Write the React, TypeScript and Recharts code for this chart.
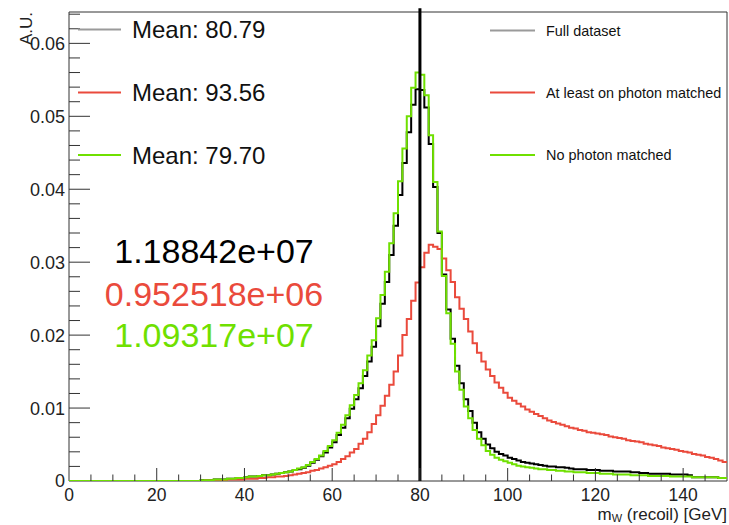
import React from "react";
import { ComposedChart, Line, XAxis, YAxis, ReferenceLine, ReferenceArea } from "recharts";

// ---- data (1 GeV bins, 0..150 GeV, unit-normalised) ----
const BIN_WIDTH = 1;
const X_MIN = 0;
const X_MAX = 150;
const Y_MAX = 0.0643;
const MARKER_X = 80;

const fullDataset: number[] = [
  0, 0, 0, 0, 0, 0, 0, 0, 0, 0, 0, 0, 0, 0, 0, 0, 0, 0, 0, 0, 0, 0, 0, 0, 0, 0, 0, 0, 0, 0,
  0.0001, 0.0001, 0.0001, 0.0002, 0.0002, 0.0002, 0.0003, 0.0003, 0.0004, 0.0004,
  0.0005, 0.0006, 0.0006, 0.0007, 0.0008, 0.0008, 0.0009, 0.001, 0.0011, 0.0012,
  0.0013, 0.0015, 0.0016, 0.0018, 0.0021, 0.0025, 0.0029, 0.0034, 0.0039, 0.0046,
  0.0053, 0.0063, 0.0073, 0.0086, 0.0099, 0.0112, 0.0127, 0.0144, 0.0164, 0.0184,
  0.0212, 0.0243, 0.0273, 0.031, 0.035, 0.0392, 0.0436, 0.0478, 0.0516, 0.0537,
  0.0536, 0.0512, 0.0462, 0.0403, 0.034, 0.0283, 0.0235, 0.0195, 0.0158, 0.0134,
  0.0112, 0.0096, 0.008, 0.0067, 0.0058, 0.005, 0.0045, 0.004, 0.0037, 0.0035,
  0.0032, 0.003, 0.0028, 0.0026, 0.0025, 0.0024, 0.0023, 0.0022, 0.0021, 0.002,
  0.002, 0.0019, 0.0019, 0.0018, 0.0017, 0.0016, 0.0016, 0.0016, 0.0015, 0.0015,
  0.0015, 0.0014, 0.0014, 0.0014, 0.0013, 0.0013, 0.0013, 0.0013, 0.0012, 0.0012,
  0.0011, 0.0011, 0.001, 0.001, 0.001, 0.001, 0.001, 0.0009, 0.0009, 0.0009,
  0.0009, 0.0008, 0.0005, 0.0005, 0.0005, 0.0005, 0.0005, 0.0005, 0.0004, 0.0004,
];

const photonMatched: number[] = [
  0, 0, 0, 0, 0, 0, 0, 0, 0, 0, 0, 0, 0, 0, 0, 0, 0, 0, 0, 0, 0, 0, 0, 0, 0, 0, 0, 0, 0, 0,
  0, 0.0001, 0.0001, 0.0001, 0.0001, 0.0001, 0.0002, 0.0002, 0.0002, 0.0002,
  0.0003, 0.0003, 0.0003, 0.0004, 0.0004, 0.0005, 0.0005, 0.0006, 0.0006, 0.0007,
  0.0008, 0.0009, 0.001, 0.0011, 0.0012, 0.0014, 0.0015, 0.0017, 0.0019, 0.0021,
  0.0023, 0.0026, 0.003, 0.0034, 0.0039, 0.0044, 0.0051, 0.0058, 0.0067, 0.0078,
  0.009, 0.0103, 0.0117, 0.0132, 0.015, 0.0172, 0.02, 0.0222, 0.0247, 0.0272,
  0.0293, 0.0313, 0.0324, 0.0321, 0.0318, 0.0305, 0.0289, 0.0273, 0.0252, 0.0236,
  0.0222, 0.0205, 0.0189, 0.0176, 0.0164, 0.0153, 0.0144, 0.0135, 0.0128, 0.0121,
  0.0114, 0.011, 0.0106, 0.0102, 0.0098, 0.0095, 0.0092, 0.0089, 0.0086, 0.0083,
  0.0081, 0.0079, 0.0077, 0.0075, 0.0073, 0.0072, 0.007, 0.0069, 0.0067, 0.0066,
  0.0065, 0.0064, 0.0063, 0.0061, 0.006, 0.0059, 0.0058, 0.0056, 0.0055, 0.0054,
  0.0053, 0.0051, 0.005, 0.0049, 0.0048, 0.0046, 0.0045, 0.0044, 0.0043, 0.0041,
  0.004, 0.0039, 0.0037, 0.0036, 0.0035, 0.0033, 0.0032, 0.003, 0.0028, 0.0026,
];

const noPhoton: number[] = [
  0, 0, 0, 0, 0, 0, 0, 0, 0, 0, 0, 0, 0, 0, 0, 0, 0, 0, 0, 0, 0, 0, 0, 0, 0, 0, 0, 0, 0, 0,
  0.0001, 0.0001, 0.0001, 0.0002, 0.0002, 0.0002, 0.0003, 0.0003, 0.0004, 0.0004,
  0.0005, 0.0006, 0.0006, 0.0007, 0.0008, 0.0008, 0.0009, 0.001, 0.0011, 0.0012,
  0.0013, 0.0015, 0.0017, 0.0019, 0.0022, 0.0026, 0.003, 0.0035, 0.0041, 0.0048,
  0.0056, 0.0066, 0.0077, 0.009, 0.0104, 0.0118, 0.0134, 0.0152, 0.0172, 0.0193,
  0.0223, 0.0255, 0.0287, 0.0326, 0.0367, 0.0411, 0.0456, 0.05, 0.0539, 0.056,
  0.0557, 0.0529, 0.0474, 0.041, 0.0342, 0.0281, 0.023, 0.0188, 0.015, 0.0125,
  0.0102, 0.0086, 0.007, 0.0058, 0.0049, 0.0041, 0.0036, 0.0032, 0.0029, 0.0027,
  0.0025, 0.0023, 0.0021, 0.002, 0.0019, 0.0018, 0.0017, 0.0016, 0.0016, 0.0015,
  0.0015, 0.0014, 0.0014, 0.0013, 0.0013, 0.0012, 0.0012, 0.0012, 0.0011, 0.0011,
  0.0011, 0.001, 0.001, 0.001, 0.0009, 0.0009, 0.0009, 0.0009, 0.0008, 0.0008,
  0.0008, 0.0008, 0.0007, 0.0007, 0.0007, 0.0007, 0.0007, 0.0006, 0.0006, 0.0006,
  0.0006, 0.0006, 0.0005, 0.0005, 0.0005, 0.0005, 0.0005, 0.0005, 0.0004, 0.0004,
];

const xTicks = [0, 5, 10, 15, 20, 25, 30, 35, 40, 45, 50, 55, 60, 65, 70, 75, 80, 85, 90, 95, 100, 105, 110, 115, 120, 125, 130, 135, 140, 145, 150];
const yTicks = [
  0, 0.002, 0.004, 0.006, 0.008, 0.01, 0.012, 0.014, 0.016, 0.018, 0.02, 0.022, 0.024, 0.026, 0.028,
  0.03, 0.032, 0.034, 0.036, 0.038, 0.04, 0.042, 0.044, 0.046, 0.048, 0.05, 0.052, 0.054, 0.056,
  0.058, 0.06, 0.062, 0.064,
];

const seriesLabels = ["Full dataset", "At least on photon matched", "No photon matched"];
const meanLabels = ["Mean: 80.79", "Mean: 93.56", "Mean: 79.70"];
const entryLabels = ["1.18842e+07", "0.952518e+06", "1.09317e+07"];

// ---- styles ----
const W = 729;
const H = 525;
const FONT = "'Liberation Sans', Arial, Helvetica, sans-serif";
const BLACK = "#000000";
const RED = "#ea4a3c";
const GREEN = "#6fe000";
const GREY = "#9a9a9a";
const AXIS = "#333333";
const MARGIN = { top: 12, right: 2, bottom: 0, left: 0 };
const X_AXIS_H = 44;
const Y_AXIS_W = 69;
const PLOT_LEFT = MARGIN.left + Y_AXIS_W;
const PLOT_BOTTOM = H - MARGIN.bottom - X_AXIS_H;

const nBins = fullDataset.length;
const rows = Array.from({ length: nBins + 1 }, (_, i) => {
  const j = Math.min(i, nBins - 1);
  return {
    x: X_MIN + i * BIN_WIDTH,
    full: fullDataset[j],
    matched: photonMatched[j],
    none: noPhoton[j],
  };
});

const XTick = (props: any) => {
  const { x, payload } = props;
  const v = payload.value as number;
  const major = v % 20 === 0;
  return (
    <g>
      {v !== X_MIN && v !== X_MAX && (
        <line x1={x} x2={x} y1={PLOT_BOTTOM} y2={PLOT_BOTTOM - (major ? 13 : 6.5)} stroke={AXIS} strokeWidth={1} />
      )}
      {major && (
        <text x={x} y={501} textAnchor="middle" fontFamily={FONT} fontSize={17.5} fill="#222">
          {v}
        </text>
      )}
    </g>
  );
};

const YTick = (props: any) => {
  const { y, payload } = props;
  const v = payload.value as number;
  const major = Math.abs(v * 100 - Math.round(v * 100)) < 1e-6;
  return (
    <g>
      {v !== 0 && (
        <line x1={PLOT_LEFT} x2={PLOT_LEFT + (major ? 21 : 11)} y1={y} y2={y} stroke={AXIS} strokeWidth={1} />
      )}
      {major && (
        <text x={65} y={y} dy="0.36em" textAnchor="end" fontFamily={FONT} fontSize={18} fill="#222">
          {v === 0 ? "0" : v.toFixed(2)}
        </text>
      )}
    </g>
  );
};

const colors = [GREY, RED, GREEN];
const numberColors = [BLACK, RED, GREEN];
const leftRows = [29.5, 92.5, 155];
const rightRows = [30.5, 92.5, 155];
const numberRows = [263, 306, 347];

export default function App() {
  return (
    <div style={{ position: "absolute", left: 0, top: 0, width: W, height: H, background: "#fff" }}>
      <ComposedChart width={W} height={H} data={rows} margin={MARGIN}>
        <XAxis
          dataKey="x"
          type="number"
          domain={[X_MIN, X_MAX]}
          allowDataOverflow
          ticks={xTicks}
          interval={0}
          height={X_AXIS_H}
          axisLine={false}
          tickLine={false}
          tickSize={0}
          tick={<XTick />}
        />
        <YAxis
          type="number"
          domain={[0, Y_MAX]}
          allowDataOverflow
          ticks={yTicks}
          interval={0}
          width={Y_AXIS_W}
          axisLine={false}
          tickLine={false}
          tickSize={0}
          tick={<YTick />}
        />
        <ReferenceArea x1={X_MIN} x2={X_MAX} y1={0} y2={Y_MAX} fill="none" stroke={AXIS} strokeWidth={1} ifOverflow="visible" />
        <Line type="stepAfter" dataKey="full" stroke={BLACK} strokeWidth={2} dot={false} isAnimationActive={false} />
        <Line type="stepAfter" dataKey="matched" stroke={RED} strokeWidth={2} dot={false} isAnimationActive={false} />
        <Line type="stepAfter" dataKey="none" stroke={GREEN} strokeWidth={2} dot={false} isAnimationActive={false} />
        <ReferenceLine
          segment={[{ x: MARKER_X, y: 0 }, { x: MARKER_X, y: 0.0648 }]}
          stroke={BLACK}
          strokeWidth={3}
          ifOverflow="visible"
        />
      </ComposedChart>
      <svg width={W} height={H} style={{ position: "absolute", left: 0, top: 0, pointerEvents: "none" }}>
        {seriesLabels.map((s, i) => (
          <g key={s}>
            <line x1={78} x2={121} y1={leftRows[i]} y2={leftRows[i]} stroke={colors[i]} strokeWidth={2} />
            <text x={132} y={leftRows[i]} dy="0.36em" fontFamily={FONT} fontSize={24} fill="#111">
              {meanLabels[i]}
            </text>
            <line x1={490} x2={535} y1={rightRows[i]} y2={rightRows[i]} stroke={colors[i]} strokeWidth={2} />
            <text x={546} y={rightRows[i]} dy="0.36em" fontFamily={FONT} fontSize={14.4} fill="#111">
              {s}
            </text>
            <text x={214} y={numberRows[i]} textAnchor="middle" fontFamily={FONT} fontSize={34} fill={numberColors[i]}>
              {entryLabels[i]}
            </text>
          </g>
        ))}
        <text transform="translate(32,12) rotate(-90)" textAnchor="end" fontFamily={FONT} fontSize={17} fill="#222">
          A.U.
        </text>
        <text x={727} y={520} textAnchor="end" fontFamily={FONT} fontSize={17} fill="#222">
          m
          <tspan fontSize={11} dy={2}>W</tspan>
          <tspan dy={-2}> (recoil) [GeV]</tspan>
        </text>
      </svg>
    </div>
  );
}
